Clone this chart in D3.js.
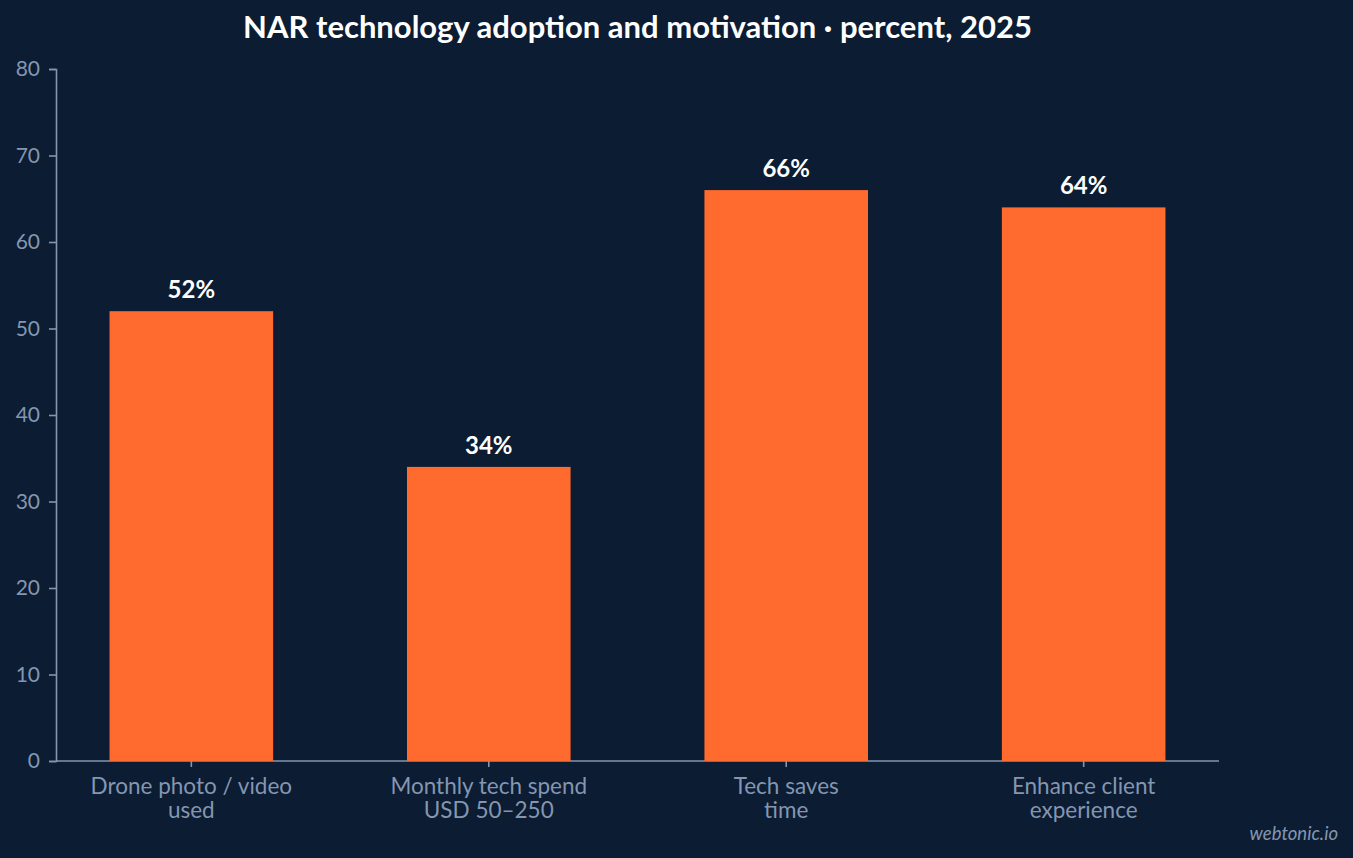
<!DOCTYPE html>
<html><head><meta charset="utf-8">
<script src="https://cdn.jsdelivr.net/npm/d3@7"></script>
<style>
html,body{margin:0;padding:0;background:#0b1c33;}
svg{display:block;font-family:Lato,sans-serif;}
</style></head>
<body>
<svg id="c" width="1353" height="858"></svg>
<script>
const categories = [["Drone photo / video","used"],["Monthly tech spend","USD 50–250"],["Tech saves","time"],["Enhance client","experience"]];
const values = [52, 34, 66, 64];
const yTicks = [0,10,20,30,40,50,60,70,80];
const title = "NAR technology adoption and motivation · percent, 2025";

const svg = d3.select("#c");
const W = 1353, H = 858;
const m = {left:56, right:134, top:69, bottom:97};
svg.append("rect").attr("width",W).attr("height",H).attr("fill","#0b1c33");

const x = d3.scaleBand().domain(d3.range(categories.length)).range([m.left, W-m.right]).paddingInner(0.45).paddingOuter(0.18);
const y = d3.scaleLinear().domain([0,80]).range([H-m.bottom, m.top]);

const axisColor = "#8496b0";
const gy = svg.append("g").attr("transform",`translate(${m.left},0)`)
  .call(d3.axisLeft(y).tickValues(yTicks).tickSize(7).tickPadding(9));
const gx = svg.append("g").attr("transform",`translate(0,${H-m.bottom})`)
  .call(d3.axisBottom(x).tickSize(6).tickFormat(""));
[gy,gx].forEach(g=>{
  g.selectAll("path,line").attr("stroke",axisColor).attr("stroke-width",1.6);
  g.selectAll("text").attr("fill",axisColor).attr("font-size",21).attr("font-family","Lato");
});
gx.select(".domain").attr("d",`M${m.left},0H${W-m.right}`);

svg.append("g").selectAll("rect").data(values).join("rect")
  .attr("x",(d,i)=>x(i)).attr("width",x.bandwidth())
  .attr("y",d=>y(d)).attr("height",d=>y(0)-y(d))
  .attr("fill","#ff6b2e");

svg.append("g").selectAll("text").data(values).join("text")
  .attr("x",(d,i)=>x(i)+x.bandwidth()/2).attr("y",d=>y(d)-13)
  .attr("text-anchor","middle").attr("fill","#ffffff").attr("font-weight",700).attr("font-size",24)
  .text(d=>d+"%");

const lab = svg.append("g").selectAll("text").data(categories).join("text")
  .attr("text-anchor","middle").attr("fill",axisColor).attr("font-size",22.5);
lab.each(function(d,i){
  const t = d3.select(this);
  d.forEach((line,j)=>{
    t.append("tspan").attr("x",x(i)+x.bandwidth()/2).attr("y",H-m.bottom+33+j*24).text(line);
  });
});

svg.append("text").attr("x",(m.left+W-m.right)/2).attr("y",38).attr("text-anchor","middle")
  .attr("fill","#ffffff").attr("font-weight",700).attr("font-size",31).text(title);

svg.append("text").attr("x",1338).attr("y",840).attr("text-anchor","end")
  .attr("fill",axisColor).attr("font-style","italic").attr("font-size",18.5).text("webtonic.io");
</script>
</body></html>
